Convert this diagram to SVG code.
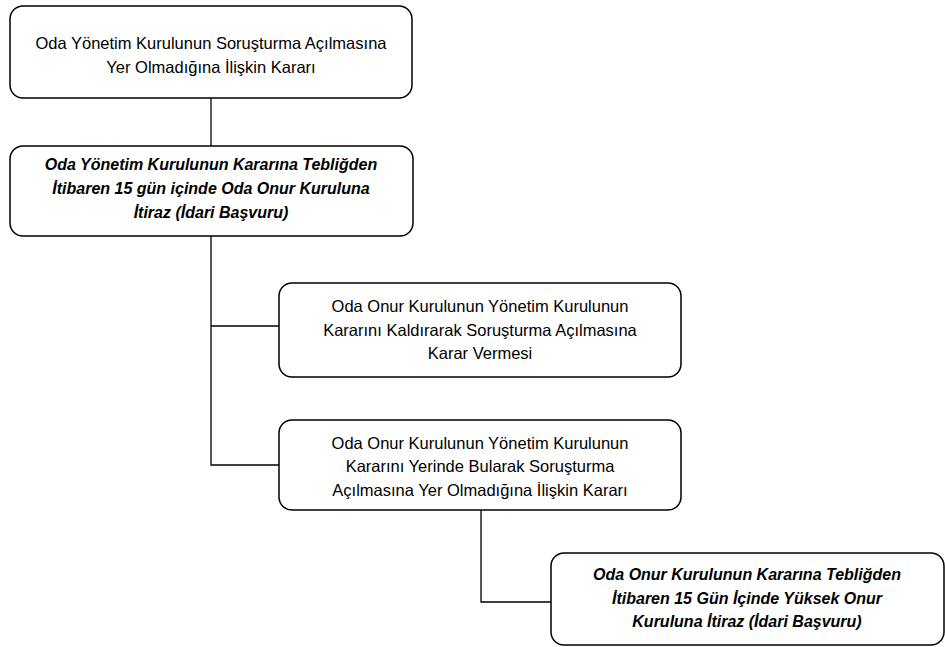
<svg xmlns="http://www.w3.org/2000/svg" width="945" height="647" viewBox="0 0 945 647">
<style>
.box{fill:#fff;stroke:#000;stroke-width:1.5}
.t{font-family:"Liberation Sans",Arial,sans-serif;font-size:16.5px;text-anchor:middle;fill:#000}
.b{font-weight:bold;font-style:italic;font-size:16px}
.c{fill:none;stroke:#000;stroke-width:1.3}
</style>
<rect width="945" height="647" fill="#fff"/>
<g id="connectors">
<path class="c" d="M211,98 V146"/>
<path class="c" d="M211,236 V465 H279"/>
<path class="c" d="M211,326 H279"/>
<path class="c" d="M481,510 V602 H551"/>
</g>
<g id="n1">
<rect class="box" x="10" y="6" width="402" height="92" rx="13"/>
<text class="t" x="211" y="49">Oda Yönetim Kurulunun Soruşturma Açılmasına</text>
<text class="t" x="211" y="73">Yer Olmadığına İlişkin Kararı</text>
</g>
<g id="n2">
<rect class="box" x="10" y="146" width="403" height="90" rx="13"/>
<text class="t b" x="211" y="170">Oda Yönetim Kurulunun Kararına Tebliğden</text>
<text class="t b" x="211" y="194">İtibaren 15 gün içinde Oda Onur Kuruluna</text>
<text class="t b" x="211" y="218">İtiraz (İdari Başvuru)</text>
</g>
<g id="n3">
<rect class="box" x="279" y="283" width="402" height="94" rx="13"/>
<text class="t" x="480" y="312">Oda Onur Kurulunun Yönetim Kurulunun</text>
<text class="t" x="480" y="336">Kararını Kaldırarak Soruşturma Açılmasına</text>
<text class="t" x="480" y="359">Karar Vermesi</text>
</g>
<g id="n4">
<rect class="box" x="279" y="420" width="402" height="90" rx="13"/>
<text class="t" x="480" y="449">Oda Onur Kurulunun Yönetim Kurulunun</text>
<text class="t" x="480" y="472">Kararını Yerinde Bularak Soruşturma</text>
<text class="t" x="480" y="496">Açılmasına Yer Olmadığına İlişkin Kararı</text>
</g>
<g id="n5">
<rect class="box" x="551" y="553" width="393" height="92" rx="13"/>
<text class="t b" x="747" y="580">Oda Onur Kurulunun Kararına Tebliğden</text>
<text class="t b" x="747" y="604">İtibaren 15 Gün İçinde Yüksek Onur</text>
<text class="t b" x="747" y="627">Kuruluna İtiraz (İdari Başvuru)</text>
</g>
</svg>
